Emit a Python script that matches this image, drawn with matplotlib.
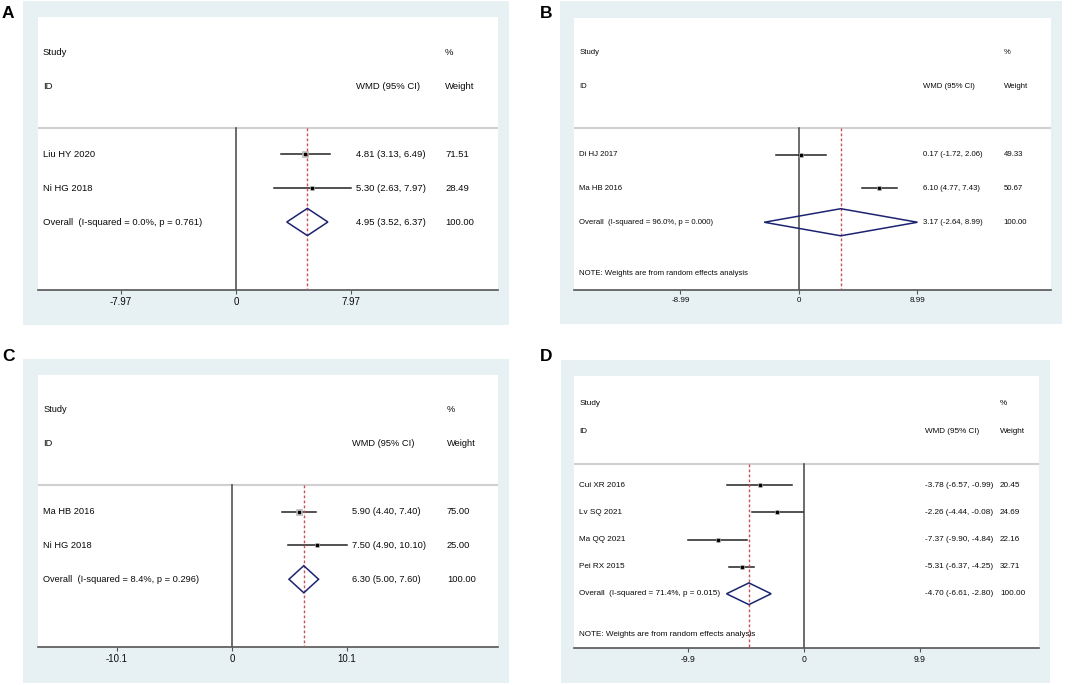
import matplotlib
matplotlib.use('Agg')
import matplotlib.pyplot as plt
from matplotlib.patches import Rectangle, Polygon

plt.rcParams['font.family'] = ['Liberation Sans', 'DejaVu Sans']

W, H = 1072, 685

# ---- data ----
a_studies = ['Liu HY 2020', 'Ni HG 2018']
a_est = [4.81, 5.30]
a_lo = [3.13, 2.63]
a_hi = [6.49, 7.97]
a_weight = [71.51, 28.49]
a_overall = [4.95, 3.52, 6.37]
a_overall_label = 'Overall  (I-squared = 0.0%, p = 0.761)'
a_ticks = [-7.97, 0, 7.97]
a_tick_labels = ['-7.97', '0', '7.97']

b_studies = ['Di HJ 2017', 'Ma HB 2016']
b_est = [0.17, 6.10]
b_lo = [-1.72, 4.77]
b_hi = [2.06, 7.43]
b_weight = [49.33, 50.67]
b_overall = [3.17, -2.64, 8.99]
b_overall_label = 'Overall  (I-squared = 96.0%, p = 0.000)'
b_ticks = [-8.99, 0, 8.99]
b_tick_labels = ['-8.99', '0', '8.99']

c_studies = ['Ma HB 2016', 'Ni HG 2018']
c_est = [5.90, 7.50]
c_lo = [4.40, 4.90]
c_hi = [7.40, 10.10]
c_weight = [75.00, 25.00]
c_overall = [6.30, 5.00, 7.60]
c_overall_label = 'Overall  (I-squared = 8.4%, p = 0.296)'
c_ticks = [-10.1, 0, 10.1]
c_tick_labels = ['-10.1', '0', '10.1']

d_studies = ['Cui XR 2016', 'Lv SQ 2021', 'Ma QQ 2021', 'Pei RX 2015']
d_est = [-3.78, -2.26, -7.37, -5.31]
d_lo = [-6.57, -4.44, -9.90, -6.37]
d_hi = [-0.99, -0.08, -4.84, -4.25]
d_weight = [20.45, 24.69, 22.16, 32.71]
d_overall = [-4.70, -6.61, -2.80]
d_overall_label = 'Overall  (I-squared = 71.4%, p = 0.015)'
d_ticks = [-9.9, 0, 9.9]
d_tick_labels = ['-9.9', '0', '9.9']

note_text = 'NOTE: Weights are from random effects analysis'

BORDER = '#e7f0f2'
TXT = '#0a0a0a'
NAVY = '#1c2470'
RED = '#c8505a'

fig = plt.figure(figsize=(W / 100, H / 100), dpi=100)
fig.patch.set_facecolor('white')


def px_rect(x0, y0, x1, y1):
    return [x0 / W, 1 - y1 / H, (x1 - x0) / W, (y1 - y0) / H]


def draw_panel(letter, letter_xy, outer, inner, xlim, studies, est, lo, hi,
               weight, overall, overall_label, ticks, tick_labels, note,
               fs, tfs, col_wmd, col_w):
    r = px_rect(*outer)
    fig.add_artist(Rectangle((r[0], r[1]), r[2], r[3], transform=fig.transFigure,
                             facecolor=BORDER, edgecolor='none', zorder=0))
    fig.text(letter_xy[0] / W, 1 - letter_xy[1] / H, letter, fontsize=12.5,
             fontweight='bold', va='top', ha='left', color='black')

    ax = fig.add_axes(px_rect(*inner))
    ax.set_facecolor('white')
    n = len(studies) + 1
    ax.set_xlim(*xlim)
    ax.set_ylim(n + 1, -4.03)
    for s in ['top', 'left', 'right']:
        ax.spines[s].set_visible(False)
    ax.spines['bottom'].set_color('#555555')
    ax.spines['bottom'].set_linewidth(1.2)
    ax.set_yticks([])
    ax.set_xticks(ticks)
    ax.set_xticklabels(tick_labels)
    ax.tick_params(axis='x', direction='out', length=3, width=0.8,
                   color='#555555', labelsize=tfs, labelcolor=TXT, pad=2)

    sep = -0.77
    ax.axhline(sep, color='#d0d0d0', lw=1.5)
    ax.plot([0, 0], [sep, n + 1], color='#444444', lw=1.1, zorder=2)
    ax.plot([overall[0], overall[0]], [sep, n + 1], color=RED, lw=1,
            ls=(0, (2, 1.6)), zorder=4)

    tkw = dict(fontsize=fs, color=TXT, va='center', ha='left',
               transform=ax.get_yaxis_transform())
    ax.text(0.011, -3, 'Study', **tkw)
    ax.text(0.011, -2, 'ID', **tkw)
    ax.text(col_wmd, -2, 'WMD (95% CI)', **tkw)
    ax.text(col_w, -3, '%', **tkw)
    ax.text(col_w, -2, 'Weight', **tkw)

    for i, name in enumerate(studies):
        ax.plot([lo[i], hi[i]], [i, i], color='#222222', lw=1.1, zorder=3)
        ax.plot(est[i], i, marker='s', ms=0.5 * weight[i] ** 0.5,
                color='#c4c4c4', mec='#b0b0b0', mew=0.4, zorder=3)
        ax.plot(est[i], i, marker='s', ms=2, color='black', zorder=5)
        ax.text(0.011, i, name, **tkw)
        ax.text(col_wmd, i, f'{est[i]:.2f} ({lo[i]:.2f}, {hi[i]:.2f})', **tkw)
        ax.text(col_w, i, f'{weight[i]:.2f}', **tkw)

    yo = len(studies)
    h = 0.4
    e, l, u = overall
    ax.add_patch(Polygon([[l, yo], [e, yo - h], [u, yo], [e, yo + h]],
                         closed=True, fill=False, edgecolor=NAVY, lw=1.1,
                         zorder=4))
    ax.text(0.011, yo, overall_label, **tkw)
    ax.text(col_wmd, yo, f'{e:.2f} ({l:.2f}, {u:.2f})', **tkw)
    ax.text(col_w, yo, '100.00', **tkw)
    if note:
        ax.text(0.011, n + 0.5, note_text, **tkw)
    return ax


draw_panel('A', (2, 6), (23, 1, 509, 325), (38, 17, 498, 290),
           (-13.72, 18.16), a_studies, a_est, a_lo, a_hi, a_weight,
           a_overall, a_overall_label, a_ticks, a_tick_labels, False,
           6.8, 7.0, 0.691, 0.885)
draw_panel('B', (540, 6), (560, 1, 1062, 324), (574, 18, 1051, 290),
           (-17.07, 19.12), b_studies, b_est, b_lo, b_hi, b_weight,
           b_overall, b_overall_label, b_ticks, b_tick_labels, True,
           5.6, 5.8, 0.732, 0.901)
draw_panel('C', (2, 349), (23, 359, 509, 683), (38, 375, 498, 647),
           (-17.03, 23.35), c_studies, c_est, c_lo, c_hi, c_weight,
           c_overall, c_overall_label, c_ticks, c_tick_labels, False,
           6.7, 6.9, 0.683, 0.889)
draw_panel('D', (540, 349), (561, 360, 1050, 683), (574, 376, 1039, 648),
           (-19.62, 20.05), d_studies, d_est, d_lo, d_hi, d_weight,
           d_overall, d_overall_label, d_ticks, d_tick_labels, True,
           5.9, 6.2, 0.755, 0.916)

fig.savefig('out.png', dpi=100)
